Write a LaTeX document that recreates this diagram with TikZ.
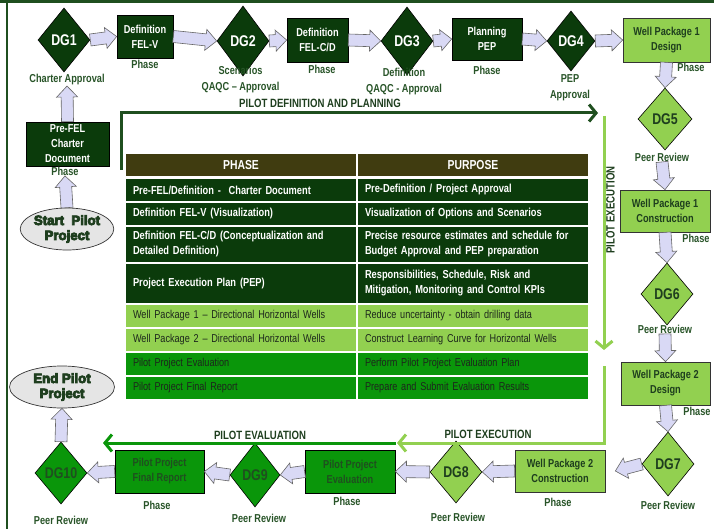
\documentclass[tikz,border=0pt]{standalone}
\usepackage{fontspec}
\setmainfont{Liberation Sans}[FakeStretch=0.8]
\newfontfamily\heavyfont{Liberation Sans}[FakeStretch=0.98,FakeBold=6]
\usetikzlibrary{shapes.geometric,arrows.meta,calc}
\definecolor{dkg}{HTML}{0B3B0B}
\definecolor{lg}{HTML}{92D050}
\definecolor{mg}{HTML}{0A960A}
\definecolor{hdr}{HTML}{403C10}
\definecolor{lbltxt}{HTML}{285428}
\definecolor{dtext}{HTML}{1E3E1E}
\definecolor{mtext}{HTML}{1F4F1F}
\definecolor{rowtxt}{HTML}{1C261C}
\definecolor{afill}{HTML}{D9D9F5}
\definecolor{frm}{HTML}{1F4F1F}
\newcommand\blkarrow[2]{%
  \draw[barrow] ($(#1)!6pt!90:(#2)$) -- ($(#2)!11pt!(#1)!6pt!90:(#2)$)
   -- ($(#2)!11pt!(#1)!10.5pt!90:(#2)$) -- (#2)
   -- ($(#2)!11pt!(#1)!10.5pt!-90:(#2)$) -- ($(#2)!11pt!(#1)!6pt!-90:(#2)$)
   -- ($(#1)!6pt!-90:(#2)$) -- cycle;}
\tikzset{
  barrow/.style={draw=black!60, fill=afill, line width=0.6pt, line join=miter},
  dia/.style={diamond, draw=black, line width=0.6pt, inner sep=0pt, minimum width=52pt, minimum height=64pt, font=\fontsize{15.5}{15}\selectfont\bfseries},
  diad/.style={dia, fill=dkg, text=white},
  dial/.style={dia, fill=lg, text=dtext},
  diam/.style={dia, fill=mg, text=mtext},
  boxbase/.style={rectangle, draw=black, line width=0.7pt, inner sep=0pt, align=center, font=\fontsize{11.5}{15}\selectfont\bfseries},
  dbox/.style={boxbase, fill=dkg, text=white},
  lbox/.style={boxbase, fill=lg, text=dtext, draw=black!80},
  mbox/.style={boxbase, fill=mg, text=mtext},
  lbl/.style={inner sep=0.5pt, align=center, text=lbltxt, font=\fontsize{11.5}{16}\selectfont\bfseries},
  ell/.style={ellipse, draw=black!80, line width=0.7pt, fill=black!10, inner sep=0pt, align=center, text=dtext, font=\fontsize{13.5}{15}\selectfont\heavyfont\bfseries},
  tcell/.style={rectangle, draw=white, line width=1.5pt, text width=216pt, inner xsep=8pt, inner ysep=0pt, align=left, font=\fontsize{11.4}{15}\selectfont},
  tcd/.style={tcell, fill=dkg, text=white, font=\fontsize{11.6}{15}\selectfont\bfseries},
  tcl/.style={tcell, fill=lg, text=rowtxt},
  tcm/.style={tcell, fill=mg, text=rowtxt},
  tch/.style={tcell, fill=hdr, text=white, align=center, font=\fontsize{13}{15}\selectfont\bfseries},
  plbl/.style={inner sep=0pt, font=\fontsize{12}{13}\selectfont\bfseries},
  proc/.style={line width=3pt, -{Straight Barb[length=7pt,width=17pt]}}
}
\begin{document}
\begin{tikzpicture}[x=1pt,y=-1pt]
\useasboundingbox (0,0) rectangle (714,529);
% frame
\draw[frm, line width=3pt] (0,1.5) -- (714,1.5);
\draw[frm, line width=2pt] (7,1.5) -- (7,529);

% top row
\node[diad] (dg1) at (64,40) {DG1};
\node[lbl] (ca) at (67,80) {Charter Approval};
\node[dbox, minimum width=56pt, minimum height=43pt] (felv) at (145,36.5) {Definition\\FEL-V};
\node[lbl] (ph1) at (145,64) {Phase};
\node[diad, minimum height=70pt] (dg2) at (243,41) {DG2};
\node[lbl] (l2) at (240.5,79.5) {Scenarios\\QAQC – Approval};
\node[dbox, minimum width=61pt, minimum height=44pt] (fcd) at (317.5,40) {Definition\\FEL-C/D};
\node[lbl] (ph2) at (322,69) {Phase};
\node[diad, minimum height=68pt] (dg3) at (407,41) {DG3};
\node[lbl] (l3) at (404,82) {Definition\\QAQC - Approval};
\node[dbox, minimum width=70pt, minimum height=42pt] (pep) at (487,39) {Planning\\PEP};
\node[lbl] (ph3) at (487,70) {Phase};
\node[diad, minimum width=48pt, minimum height=60pt] (dg4) at (571,41) {DG4};
\node[lbl] (l4) at (570,88) {PEP\\Approval};
\node[lbox, minimum width=87pt, minimum height=44pt] (wp1d) at (666.5,40) {Well Package 1\\Design};
\node[lbl] (ph4) at (691,67) {Phase};

% right column
\node[dial, minimum width=54pt, minimum height=62pt] (dg5) at (665,119) {DG5};
\node[lbl] (pr5) at (662,157) {Peer Review};
\node[lbox, minimum width=90pt, minimum height=42pt] (wp1c) at (665,211) {Well Package 1\\Construction};
\node[lbl] (ph5) at (696,238) {Phase};
\node[dial, minimum height=62pt] (dg6) at (667,294) {DG6};
\node[lbl] (pr6) at (665,329) {Peer Review};
\node[lbox, minimum width=89pt, minimum height=43pt] (wp2d) at (665.5,383.5) {Well Package 2\\Design};
\node[lbl] (ph6) at (697,411) {Phase};
\node[dial] (dg7) at (668,464) {DG7};
\node[lbl] (pr7) at (668,505) {Peer Review};

% bottom row
\node[lbox, minimum width=90pt, minimum height=42pt] (wp2c) at (560,471) {Well Package 2\\Construction};
\node[lbl] (ph7) at (558,502) {Phase};
\node[dial, minimum height=62pt] (dg8) at (456,472) {DG8};
\node[lbl] (pr8) at (458,517) {Peer Review};
\node[mbox, minimum width=90pt, minimum height=43pt] (ppe) at (350,471.5) {Pilot Project\\Evaluation};
\node[lbl] (ph8) at (347,501) {Phase};
\node[diam, minimum width=50pt] (dg9) at (255,475) {DG9};
\node[lbl] (pr9) at (259,518) {Peer Review};
\node[mbox, minimum width=89pt, minimum height=43pt] (fr) at (159.5,471.5) {Pilot Project\\Final Report};
\node[lbl] (ph9) at (157,505) {Phase};
\node[diam, minimum height=62pt] (dg10) at (61,473) {DG10};
\node[lbl] (pr10) at (61,520) {Peer Review};
\node[ell, minimum width=105pt, minimum height=42pt] (endp) at (62,387) {End Pilot\\Project};

% left column
\node[ell, minimum width=92pt, minimum height=42pt] (startp) at (67,229) {Start~ Pilot\\Project};
\node[dbox, minimum width=83pt, minimum height=44pt] (pre) at (67.5,144) {Pre-FEL\\Charter\\Document};
\node[lbl] (ppf) at (65,171) {Phase};

% block arrows
\blkarrow{startp.north}{ppf.south}
\blkarrow{pre.north}{ca.south}
\blkarrow{dg1.east}{felv.west}
\blkarrow{felv.east}{dg2.west}
\blkarrow{dg2.east}{fcd.west}
\blkarrow{fcd.east}{dg3.west}
\blkarrow{dg3.east}{pep.west}
\blkarrow{pep.east}{dg4.west}
\blkarrow{dg4.east}{wp1d.west}
\blkarrow{wp1d.south}{dg5.north}
\blkarrow{pr5.south}{wp1c.north}
\blkarrow{wp1c.south}{dg6.north}
\blkarrow{pr6.south}{wp2d.north}
\blkarrow{wp2d.south}{dg7.north}
\coordinate (t7) at ($(wp2c.east)+(10,0)$);
\blkarrow{dg7.west}{t7}
\blkarrow{wp2c.west}{dg8.east}
\blkarrow{dg8.west}{ppe.east}
\blkarrow{ppe.west}{dg9.east}
\blkarrow{dg9.west}{fr.east}
\blkarrow{fr.west}{dg10.east}
\blkarrow{dg10.north}{endp.south}

% process arrows
\coordinate (pa0) at (121,170);
\coordinate (pa1) at (121,113);
\coordinate (pa2) at (598,113);
\draw[proc, draw=frm] (pa0) -- (pa1) -- (pa2);
\node[plbl, text=dtext] (pdpl) at (320,103) {PILOT DEFINITION AND PLANNING};
\coordinate (pb0) at (604,116);
\coordinate (pb1) at (604,350);
\draw[proc, draw=lg] (pb0) -- (pb1);
\node[plbl, text=dtext, rotate=90] (pexv) at (610.5,210) {PILOT EXECUTION};
\coordinate (pc0) at (604,366);
\coordinate (pc1) at (604,443);
\coordinate (pc2) at (397,443);
\draw[proc, draw=lg] (pc0) -- (pc1) -- (pc2);
\node[plbl, text=dtext] (pexh) at (488,434) {PILOT EXECUTION};
\coordinate (pd0) at (396,443);
\coordinate (pd1) at (103,443);
\draw[proc, draw=mg] (pd0) -- (pd1);
\node[plbl, text=dtext] (pevl) at (260,435) {PILOT EVALUATION};

% table
\node[tch, minimum height=24pt] (h1) at (241,165) {PHASE};
\node[tch, minimum height=24pt] (h2) at (473,165) {PURPOSE};
\node[tcd, minimum height=24pt] (a1) at (241,190) {Pre-FEL/Definition -\ \ Charter Document};
\node[tcd, minimum height=24pt] (b1) at (473,190) {Pre-Definition / Project Approval};
\node[tcd, minimum height=24pt] (a2) at (241,214) {Definition FEL-V (Visualization)};
\node[tcd, minimum height=24pt] (b2) at (473,214) {Visualization of Options and Scenarios};
\node[tcd, minimum height=37pt] (a3) at (241,244.5) {Definition FEL-C/D (Conceptualization and\\Detailed Definition)};
\node[tcd, minimum height=37pt] (b3) at (473,244.5) {Precise resource estimates and schedule for\\Budget Approval and PEP preparation};
\node[tcd, minimum height=41pt] (a4) at (241,283.5) {Project Execution Plan (PEP)};
\node[tcd, minimum height=41pt] (b4) at (473,283.5) {Responsibilities, Schedule, Risk and\\Mitigation, Monitoring and Control KPIs};
\node[tcl, minimum height=24pt] (a5) at (241,316) {Well Package 1 – Directional Horizontal Wells};
\node[tcl, minimum height=24pt] (b5) at (473,316) {Reduce uncertainty - obtain drilling data};
\node[tcl, minimum height=24pt] (a6) at (241,340) {Well Package 2 – Directional Horizontal Wells};
\node[tcl, minimum height=24pt] (b6) at (473,340) {Construct Learning Curve for Horizontal Wells};
\node[tcm, minimum height=24pt] (a7) at (241,364) {Pilot Project Evaluation};
\node[tcm, minimum height=24pt] (b7) at (473,364) {Perform Pilot Project Evaluation Plan};
\node[tcm, minimum height=24pt] (a8) at (241,388) {Pilot Project Final Report};
\node[tcm, minimum height=24pt] (b8) at (473,388) {Prepare and Submit Evaluation Results};
\end{tikzpicture}
\end{document}
